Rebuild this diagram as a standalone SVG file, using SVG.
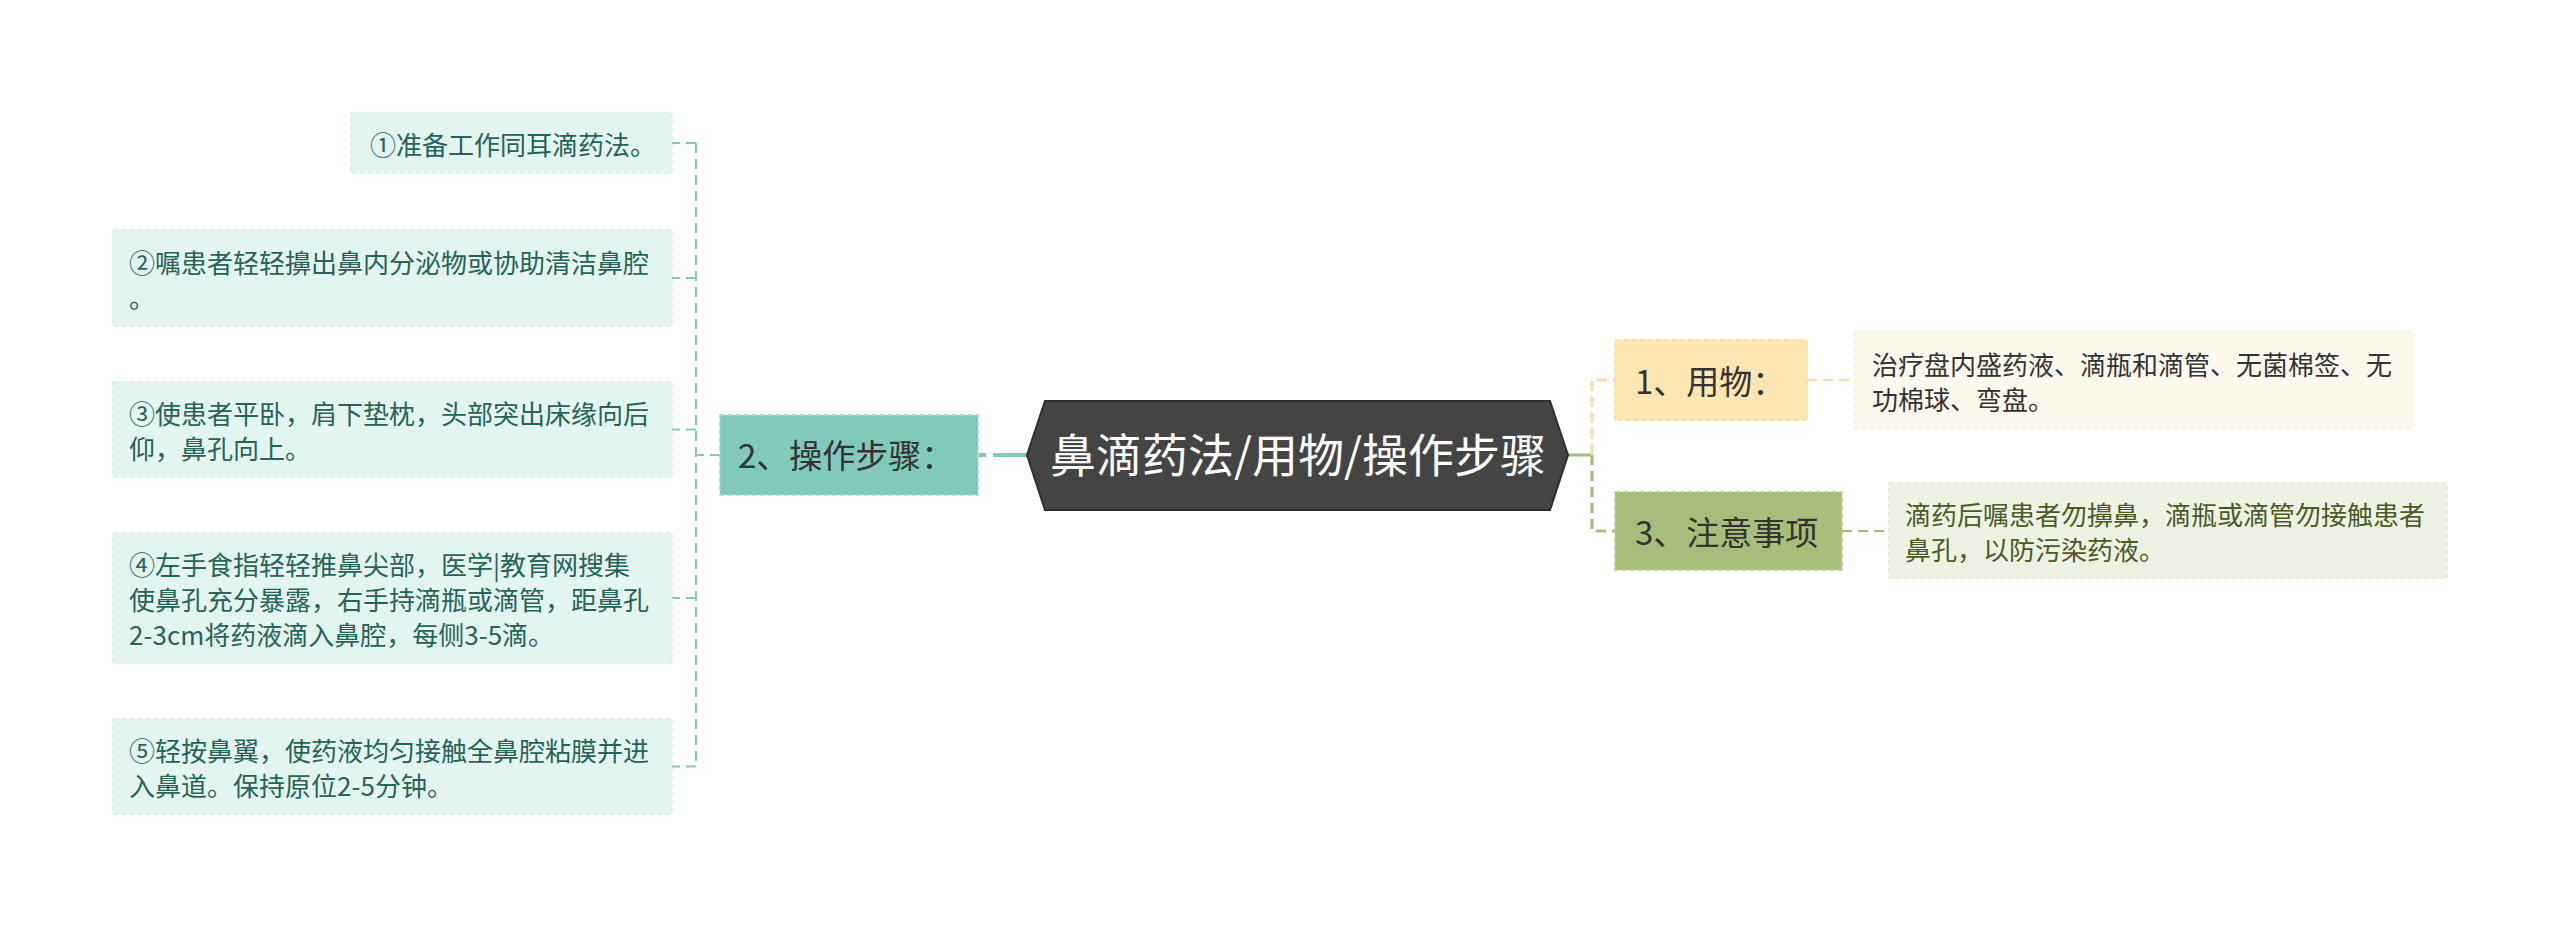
<svg xmlns="http://www.w3.org/2000/svg" width="2560" height="928" viewBox="0 0 2560 928">
<style>
text{font-family:"Noto Sans CJK SC","Noto Sans",sans-serif;}
.leaf{fill:#e4f4f1;stroke:#d6eee8;stroke-width:1.5;stroke-dasharray:5 3;}
.leaft{font-size:26px;fill:#236558;}
.rt{font-size:26px;fill:#333333;}
.rt2{font-size:26px;fill:#4a5b24;}
.l1t{font-size:33px;fill:#333333;}
.conL{fill:none;stroke:#80c9bb;stroke-width:2;stroke-dasharray:10 6;}
.dashY{fill:none;stroke:#f7dea0;stroke-width:3;stroke-dasharray:10 6;}
.dashG{fill:none;stroke:#a5bd79;stroke-width:3;stroke-dasharray:10 6;}
</style>
<rect width="2560" height="928" fill="#ffffff"/>
<g id="connectors">
  <path d="M979,455 H986 M993,455 H1030" fill="none" stroke="#80c9bb" stroke-width="4"/>
  <path class="conL" d="M720,455 H696"/>
  <path class="conL" d="M696,143 V767"/>
  <path class="conL" d="M696,143 H672 M696,278 H672 M696,429.5 H672 M696,598 H672 M696,766.5 H672"/>
  <path d="M1566,455 H1592" fill="none" stroke="#a5bd79" stroke-width="3"/>
  <path class="dashY" d="M1592,455 V380 H1615"/>
  <path class="dashG" d="M1592,455 V531 H1615"/>
  <path class="dashY" d="M1807,380 H1855" style="stroke-width:2"/>
  <path class="dashG" d="M1842,531 H1889" style="stroke-width:2"/>
</g>
<g id="root">
  <polygon points="1027,455 1045,401 1550,401 1568,455 1550,510 1045,510" fill="#444444" stroke="#2e2e2e" stroke-width="2"/>
  <text x="1298" y="472" text-anchor="middle" font-size="46" fill="#ffffff">鼻滴药法/用物/操作步骤</text>
</g>
<g id="n2">
  <rect x="720" y="415" width="258" height="80" fill="#80c9bb" stroke="#9ad6ca" stroke-width="1.5" stroke-dasharray="5 3"/>
  <text class="l1t" x="738" y="468">2、操作步骤：</text>
</g>
<g id="s1">
  <rect class="leaf" x="351" y="113" width="321" height="60"/>
  <text class="leaft" x="370" y="155">①准备工作同耳滴药法。</text>
</g>
<g id="s2">
  <rect class="leaf" x="113" y="230" width="559" height="96"/>
  <text class="leaft" x="129" y="272.5">②嘱患者轻轻擤出鼻内分泌物或协助清洁鼻腔</text>
  <text class="leaft" x="129" y="307.5">。</text>
</g>
<g id="s3">
  <rect class="leaf" x="113" y="382" width="559" height="95"/>
  <text class="leaft" x="129" y="424">③使患者平卧，肩下垫枕，头部突出床缘向后</text>
  <text class="leaft" x="129" y="459">仰，鼻孔向上。</text>
</g>
<g id="s4">
  <rect class="leaf" x="113" y="533" width="559" height="130"/>
  <text class="leaft" x="129" y="575">④左手食指轻轻推鼻尖部，医学|教育网搜集</text>
  <text class="leaft" x="129" y="610">使鼻孔充分暴露，右手持滴瓶或滴管，距鼻孔</text>
  <text class="leaft" x="129" y="645">2-3cm将药液滴入鼻腔，每侧3-5滴。</text>
</g>
<g id="s5">
  <rect class="leaf" x="113" y="719" width="559" height="95"/>
  <text class="leaft" x="129" y="761">⑤轻按鼻翼，使药液均匀接触全鼻腔粘膜并进</text>
  <text class="leaft" x="129" y="796">入鼻道。保持原位2-5分钟。</text>
</g>
<g id="n1">
  <rect x="1615" y="340" width="192" height="80" fill="#fde6b0" stroke="#fbdb94" stroke-width="1.5" stroke-dasharray="5 3"/>
  <text class="l1t" x="1635" y="394">1、用物：</text>
</g>
<g id="d1">
  <rect x="1855" y="332" width="558" height="96" fill="#fdf9ec" stroke="#f6efd8" stroke-width="1.5" stroke-dasharray="5 3"/>
  <text class="rt" x="1872" y="374.5">治疗盘内盛药液、滴瓶和滴管、无菌棉签、无</text>
  <text class="rt" x="1872" y="409.5">功棉球、弯盘。</text>
</g>
<g id="n3">
  <rect x="1615" y="492" width="227" height="78" fill="#a6be7a" stroke="#bacd96" stroke-width="1.5" stroke-dasharray="5 3"/>
  <text class="l1t" x="1635" y="545">3、注意事项</text>
</g>
<g id="d3">
  <rect x="1889" y="483" width="558" height="95" fill="#eef2e5" stroke="#e2e9d3" stroke-width="1.5" stroke-dasharray="5 3"/>
  <text class="rt2" x="1905" y="525">滴药后嘱患者勿擤鼻，滴瓶或滴管勿接触患者</text>
  <text class="rt2" x="1905" y="560">鼻孔，以防污染药液。</text>
</g>
</svg>
